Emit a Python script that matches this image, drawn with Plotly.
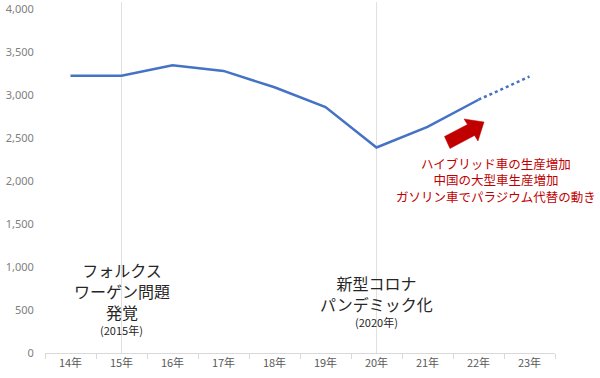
import plotly.graph_objects as go

# ---- data ----
years = ['14年', '15年', '16年', '17年', '18年', '19年', '20年', '21年', '22年', '23年']
actual_years = years[:9]
actual_values = [3225, 3225, 3345, 3280, 3090, 2860, 2390, 2630, 2945]
forecast_years = ['22年', '23年']
forecast_values = [2945, 3215]
y_ticks = [0, 500, 1000, 1500, 2000, 2500, 3000, 3500, 4000]
event_years = ['15年', '20年']
event_titles = ['フォルクス<br>ワーゲン問題<br>発覚', '新型コロナ<br>パンデミック化']
event_dates = ['(2015年)', '(2020年)']
outlook_text = 'ハイブリッド車の生産増加<br>中国の大型車生産増加<br>ガソリン車でパラジウム代替の動き'

W, H = 600, 378
ML, MR, MT, MB = 45, 45, 9, 25
PW, PH = W - ML - MR, H - MT - MB

def px(X):
    return (X - ML) / PW

def py(Y):
    return (H - MB - Y) / PH

JP = 'Noto Sans CJK JP'
BLUE = '#4472C4'
RED = '#C00000'

fig = go.Figure()
fig.add_trace(go.Scatter(x=actual_years, y=actual_values, mode='lines',
                         line=dict(color=BLUE, width=2.5), showlegend=False))
fig.add_trace(go.Scatter(x=forecast_years, y=forecast_values, mode='lines',
                         line=dict(color=BLUE, width=2.5, dash='dot'), showlegend=False))

shapes = []
for ey in event_years:
    shapes.append(dict(type='line', xref='x', yref='paper', x0=ey, x1=ey, y0=0, y1=1.02,
                       line=dict(color='#e0e0e0', width=1), layer='below'))

# block arrow (decoration)
arrow_px = [(444.5, 136.5), (467.5, 124.5), (464, 119), (484, 122), (478, 141), (474.5, 135.5), (450, 148.5)]
path = 'M ' + ' L '.join(f'{px(a):.4f},{py(b):.4f}' for a, b in arrow_px) + ' Z'
shapes.append(dict(type='path', xref='paper', yref='paper', path=path,
                   fillcolor=RED, line=dict(color=RED, width=0.5)))

annotations = []
title_centers = [291.0, 293.3]
date_rows = [329.5, 321.5]
for i, ey in enumerate(event_years):
    annotations.append(dict(x=ey, y=py(title_centers[i]), xref='x', yref='paper', text=event_titles[i],
                            showarrow=False, font=dict(family=JP, size=16, color='#262626'),
                            xanchor='center', yanchor='middle', align='center'))
    annotations.append(dict(x=ey, y=py(date_rows[i]), xref='x', yref='paper', text=event_dates[i],
                            showarrow=False, font=dict(family=JP, size=11, color='#262626'),
                            xanchor='center', yanchor='middle'))

annotations.append(dict(x=px(496), y=py(179.5), xref='paper', yref='paper', text=outlook_text,
                        showarrow=False, font=dict(family=JP, size=12.5, color=RED),
                        xanchor='center', yanchor='middle', align='center'))

fig.update_layout(
    width=W, height=H,
    margin=dict(l=ML, r=MR, t=MT, b=MB, autoexpand=False),
    paper_bgcolor='white', plot_bgcolor='white',
    shapes=shapes, annotations=annotations,
    xaxis=dict(type='category', categoryorder='array', categoryarray=years,
               range=[-0.5, 9.5], showgrid=False, zeroline=False, automargin=False,
               showline=True, linecolor='#d9d9d9', linewidth=1,
               ticks='outside', tickson='boundaries', ticklen=5, tickcolor='#d9d9d9',
               tickfont=dict(family=JP, size=11, color='#595959')),
    yaxis=dict(range=[0, 4000], tickvals=y_ticks, tickformat=',', showgrid=False, automargin=False,
               zeroline=False, showline=False, ticks='outside', ticklen=8, tickcolor='rgba(0,0,0,0)',
               tickfont=dict(family='Noto Sans', size=11, color='#808080')),
)

fig.write_html('out.html', config={'displayModeBar': False},
               post_script="document.body.style.margin='0';document.body.style.overflow='hidden';")
